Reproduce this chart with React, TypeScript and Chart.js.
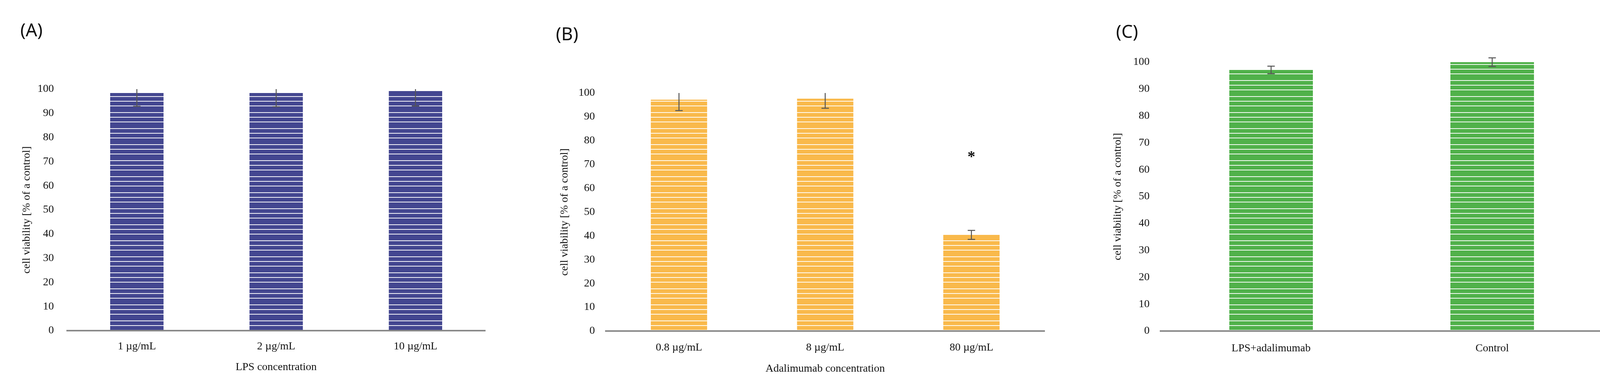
import React, { useEffect, useRef } from 'react';
import { Chart, registerables } from 'chart.js';

Chart.register(...registerables);

// ---------- data ----------
const lpsCategories = ['1 µg/mL', '2 µg/mL', '10 µg/mL'];
const lpsViability = [98.4, 98.4, 99.2];
const lpsError = [5.5, 5.7, 6.2];

const adaCategories = ['0.8 µg/mL', '8 µg/mL', '80 µg/mL'];
const adaViability = [97.2, 97.6, 40.4];
const adaError = [4.6, 4.0, 1.9];
const adaSignificance: (number | null)[] = [null, null, 74.5];

const combCategories = ['LPS+adalimumab', 'Control'];
const combViability = [97.1, 100];
const combError = [1.4, 1.6];

const yMin = 0;
const yMax = 100;
const yStep = 10;

const yAxisTitle = 'cell viability [% of a control]';

// ---------- styling ----------
const SERIF = '"Liberation Serif", "Times New Roman", serif';
const FS = 28;
const LH = FS * 1.2;

type PanelCfg = {
  label: string;
  labelLeft: number;
  labelTop: number;
  canvasLeft: number;
  canvasWidth: number;
  plotLeft: number;
  plotRight: number;
  plotTop: number;
  plotBottom: number;
  yTitleX: number;
  tickRight: number;
  xLabelY: number;
  xTitle?: string;
  xTitleY?: number;
  categories: string[];
  values: number[];
  errors: number[];
  marks?: (number | null)[];
  color: string;
  barPct: number;
  clipErrors: boolean;
};

const panels: PanelCfg[] = [
  {
    label: '(A)', labelLeft: 52, labelTop: 52,
    canvasLeft: 0, canvasWidth: 1300,
    plotLeft: 172, plotRight: 1242, plotTop: 228, plotBottom: 846,
    yTitleX: 69, tickRight: 138, xLabelY: 887,
    xTitle: 'LPS concentration', xTitleY: 940,
    categories: lpsCategories, values: lpsViability, errors: lpsError,
    color: '#434690', barPct: 0.383, clipErrors: true,
  },
  {
    label: '(B)', labelLeft: 1423, labelTop: 62,
    canvasLeft: 1300, canvasWidth: 1460,
    plotLeft: 1551, plotRight: 2674, plotTop: 238, plotBottom: 847,
    yTitleX: 1446, tickRight: 1523, xLabelY: 890,
    xTitle: 'Adalimumab concentration', xTitleY: 944,
    categories: adaCategories, values: adaViability, errors: adaError,
    marks: adaSignificance,
    color: '#F9B94B', barPct: 0.385, clipErrors: true,
  },
  {
    label: '(C)', labelLeft: 2857, labelTop: 56,
    canvasLeft: 2760, canvasWidth: 1368,
    plotLeft: 2971, plotRight: 4103, plotTop: 159, plotBottom: 847,
    yTitleX: 2862, tickRight: 2943, xLabelY: 892,
    categories: combCategories, values: combViability, errors: combError,
    color: '#50B14A', barPct: 0.378, clipErrors: false,
  },
];

function makeStripePattern(color: string): CanvasPattern | string {
  const tile = document.createElement('canvas');
  tile.width = 8;
  tile.height = 41;
  const c = tile.getContext('2d');
  if (!c) return color;
  c.fillStyle = color;
  c.fillRect(0, 0, 8, 41);
  c.fillStyle = 'rgba(255,255,255,0.95)';
  [0, 12, 24].forEach((y) => c.fillRect(0, y, 8, 2));
  const main = document.createElement('canvas').getContext('2d');
  const p = main ? main.createPattern(tile, 'repeat') : null;
  return p || color;
}

function BarPanel({ cfg }: { cfg: PanelCfg }) {
  const ref = useRef<HTMLCanvasElement | null>(null);

  useEffect(() => {
    const canvas = ref.current;
    if (!canvas) return;

    const padLeft = cfg.yTitleX - cfg.canvasLeft - LH / 2;
    const yWidth = cfg.plotLeft - cfg.canvasLeft - padLeft;
    const padRight = cfg.canvasLeft + cfg.canvasWidth - cfg.plotRight;
    const xHeight = cfg.xTitle && cfg.xTitleY ? cfg.xTitleY + LH / 2 - cfg.plotBottom : 80;
    const padBottom = 1003 - cfg.plotBottom - xHeight;

    const errorPlugin = {
      id: 'errorBars',
      afterDatasetsDraw(chart: any) {
        const { ctx, chartArea } = chart;
        const meta = chart.getDatasetMeta(0);
        const ys = chart.scales.y;
        ctx.save();
        ctx.strokeStyle = '#555555';
        ctx.lineWidth = 2.5;
        const hw = 9.5;
        meta.data.forEach((bar: any, i: number) => {
          const v = cfg.values[i];
          const e = cfg.errors[i];
          let top = ys.getPixelForValue(v + e);
          const bot = ys.getPixelForValue(v - e);
          let topCap = true;
          if (cfg.clipErrors && top < chartArea.top) {
            top = chartArea.top;
            topCap = false;
          }
          const x = bar.x;
          ctx.beginPath();
          ctx.moveTo(x, top);
          ctx.lineTo(x, bot);
          if (topCap) {
            ctx.moveTo(x - hw, top);
            ctx.lineTo(x + hw, top);
          }
          ctx.moveTo(x - hw, bot);
          ctx.lineTo(x + hw, bot);
          ctx.stroke();
          const m = cfg.marks ? cfg.marks[i] : null;
          if (m !== null && m !== undefined) {
            ctx.fillStyle = '#111';
            ctx.font = `bold 40px ${SERIF}`;
            ctx.textAlign = 'center';
            ctx.textBaseline = 'alphabetic';
            ctx.fillText('*', x, ys.getPixelForValue(m) + 20);
          }
        });
        ctx.restore();
      },
    };

    const chart = new Chart(canvas, {
      type: 'bar',
      data: {
        labels: cfg.categories,
        datasets: [
          {
            data: cfg.values,
            backgroundColor: makeStripePattern(cfg.color) as any,
            borderWidth: 0,
            barPercentage: cfg.barPct,
            categoryPercentage: 1,
          },
        ],
      },
      options: {
        responsive: false,
        animation: false,
        devicePixelRatio: 1,
        layout: {
          padding: { left: padLeft, right: padRight, top: cfg.plotTop, bottom: padBottom },
        },
        plugins: {
          legend: { display: false },
          tooltip: { enabled: false },
        },
        scales: {
          x: {
            grid: { display: true, color: 'rgba(0,0,0,0)', drawTicks: false },
            border: { display: true, color: '#898989', width: 4, z: 1 },
            ticks: {
              color: '#111',
              font: { family: SERIF, size: FS },
              padding: cfg.xLabelY - cfg.plotBottom - LH / 2,
              maxRotation: 0,
              autoSkip: false,
            },
            title: {
              display: !!cfg.xTitle,
              text: cfg.xTitle || '',
              color: '#111',
              font: { family: SERIF, size: FS },
              padding: 0,
            },
            afterFit: (s: any) => {
              s.height = xHeight;
            },
          },
          y: {
            min: yMin,
            max: yMax,
            grid: { display: false, drawTicks: false },
            border: { display: false },
            ticks: {
              stepSize: yStep,
              color: '#111',
              font: { family: SERIF, size: FS },
              padding: cfg.plotLeft - cfg.tickRight,
            },
            title: {
              display: true,
              text: yAxisTitle,
              color: '#111',
              font: { family: SERIF, size: FS },
              padding: 0,
            },
            afterFit: (s: any) => {
              s.width = yWidth;
            },
          },
        },
      },
      plugins: [errorPlugin],
    });

    return () => chart.destroy();
  }, [cfg]);

  return (
    <>
      <canvas
        ref={ref}
        width={cfg.canvasWidth}
        height={1003}
        style={{ position: 'absolute', left: cfg.canvasLeft, top: 0, width: cfg.canvasWidth, height: 1003 }}
      />
      <div
        style={{
          position: 'absolute',
          left: cfg.labelLeft,
          top: cfg.labelTop,
          fontFamily: '"Noto Sans", "Open Sans", sans-serif',
          fontSize: 46,
          lineHeight: '46px',
          color: '#111',
          whiteSpace: 'nowrap',
        }}
      >
        {cfg.label}
      </div>
    </>
  );
}

export default function App() {
  return (
    <div
      style={{
        position: 'absolute',
        left: 0,
        top: 0,
        width: 4128,
        height: 1003,
        background: '#ffffff',
        overflow: 'hidden',
      }}
    >
      {panels.map((p) => (
        <BarPanel key={p.label} cfg={p} />
      ))}
    </div>
  );
}
